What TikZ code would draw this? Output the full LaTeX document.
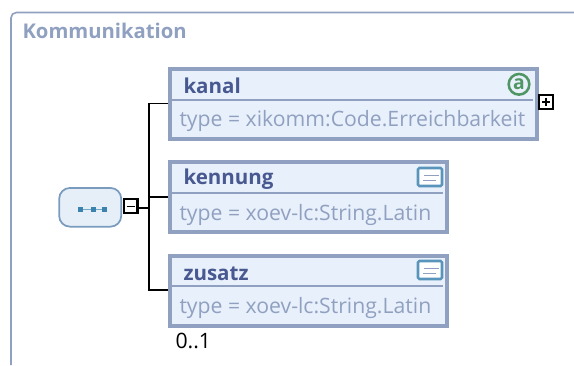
\documentclass[tikz,border=0pt]{standalone}
\usepackage{fontspec}
\setmainfont{Open Sans}
\usetikzlibrary{positioning}
\definecolor{framecol}{RGB}{144,160,192}
\definecolor{boxfill}{RGB}{232,240,251}
\definecolor{namecol}{RGB}{72,88,144}
\definecolor{typecol}{RGB}{144,160,192}
\definecolor{seqcol}{RGB}{120,155,190}
\definecolor{seqfill}{RGB}{230,239,248}
\definecolor{dotcol}{RGB}{60,130,175}
\definecolor{anycol}{RGB}{80,150,100}
\tikzset{every picture/.style={line width=0.75pt}}
\tikzset{
  elembox/.style={draw=framecol,fill=boxfill,line width=3pt},
  namelabel/.style={anchor=west,inner sep=0pt,text=namecol,font=\fontsize{15.4}{15.4}\selectfont\bfseries},
  typelabel/.style={anchor=west,inner sep=0pt,text=typecol,font=\fontsize{15.9}{15.9}\selectfont},
  togglebox/.style={draw=black,fill=white,line width=1.6pt,minimum width=10.4pt,minimum height=10.4pt,inner sep=0pt},
  conn/.style={draw=black,line width=1.4pt},
  notebox/.style={draw=dotcol!85!white,fill=white,line width=1.9pt,rounded corners=1pt,minimum width=18pt,minimum height=13.5pt,inner sep=0pt}
}
\begin{document}
\begin{tikzpicture}[x=0.75pt,y=0.75pt,yscale=-1,xscale=1]
	\useasboundingbox (0,0) rectangle (574,365);

	% Outer frame
	\draw [framecol,line width=1.2pt,rounded corners=4pt] (11,365) -- (11,12.5) -- (574,12.5);
	\node [anchor=west,inner sep=0pt,text=framecol,font=\fontsize{15.2}{15.2}\selectfont\bfseries] (title) at (22,31) {Kommunikation};

	% Element boxes
	\draw [elembox] (170,68.5) rectangle (537,138.5);
	\draw [framecol,line width=1.5pt] (170,100) -- (533,100);
	\node [namelabel] (kanal) at (183,86) {kanal};
	\node [typelabel] (kanaltype) at (179,121) {type = xikomm:Code.Erreichbarkeit};

	\draw [elembox] (170,162) rectangle (447,232);
	\draw [framecol,line width=1.5pt] (170,193) -- (443,193);
	\node [namelabel] (kennung) at (183,179) {kennung};
	\node [typelabel] (kennungtype) at (179,215) {type = xoev-lc:String.Latin};

	\draw [elembox] (170,255.5) rectangle (447,326);
	\draw [framecol,line width=1.5pt] (170,286) -- (443,286);
	\node [namelabel] (zusatz) at (183,273.5) {zusatz};
	\node [typelabel] (zusatztype) at (179,308) {type = xoev-lc:String.Latin};

	% Anchor points on the left of the boxes
	\coordinate (kanalin) at (168,103.5);
	\coordinate (kennungin) at (168,197);
	\coordinate (zusatzin) at (168,290);
	\coordinate (trunk) at (149,208);

	% Sequence node
	\node [draw=seqcol,fill=seqfill,line width=1.3pt,rounded corners=8pt,minimum width=46.5pt,minimum height=29pt,inner sep=0pt] (seq) at (90.2,207.3) {};
	\node [togglebox] (minus) at (130.5,206.3) {};
	\draw [black,line width=1.2pt] (126.5,206.3) -- (134.5,206.3);
	\draw [dotcol!70!white,line width=0.5pt] (80.5,209) -- (104.5,209);
	\foreach \dotx in {80.5,93,104.5} {
		\fill [dotcol] (\dotx-2.5,209-2.5) rectangle (\dotx+2.5,209+2.5);
	}

	% Connectors
	\draw [conn] (minus.east |- trunk) -- (trunk);
	\draw [conn] (kanalin) -| (trunk) |- (zusatzin);
	\draw [conn] (trunk |- kennungin) -- (kennungin);

	% Plus box
	\node [togglebox] (plus) at (546,101.7) {};
	\draw [black,line width=1.2pt] (542,101.7) -- (550,101.7) (546,97.7) -- (546,105.7);

	% Any icon
	\node [circle,draw=anycol,fill=boxfill,line width=1.9pt,minimum size=15.5pt,inner sep=0pt,text=anycol,font=\fontsize{14.5}{14.5}\selectfont\bfseries] (anyicon) at (519,84.3) {a};

	% Note icons
	\node [notebox] (notea) at (430,177) {};
	\draw [framecol,line width=1.2pt] (424,175.5) -- (439,175.5) (423,180.5) -- (436,180.5);
	\node [notebox] (noteb) at (430,270) {};
	\draw [framecol,line width=1.2pt] (424,268.5) -- (439,268.5) (423,273.5) -- (436,273.5);

	% Occurrence
	\node [anchor=west,inner sep=0pt,font=\fontsize{15.9}{15.9}\selectfont] (occurs) at (175,341) {0..1};
\end{tikzpicture}
\end{document}
